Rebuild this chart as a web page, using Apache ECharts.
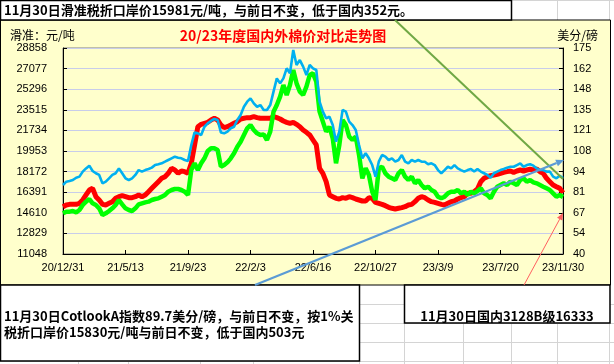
<!DOCTYPE html>
<html><head><meta charset="utf-8">
<script src="https://cdn.jsdelivr.net/npm/echarts@6/dist/echarts.min.js"></script>
<style>html,body{margin:0;padding:0;background:#fff;}#c{width:614px;height:364px;}</style>
</head><body><div id="c"></div>
<script>
// ---- data (weekly readings) ----
const dates = ['2020-12-31',
'2021-01-07','2021-01-14','2021-01-21','2021-01-28','2021-02-04','2021-02-11','2021-02-18','2021-02-25','2021-03-04','2021-03-11',
'2021-03-18','2021-03-25','2021-04-01','2021-04-08','2021-04-15','2021-04-22','2021-04-29','2021-05-06','2021-05-13','2021-05-20',
'2021-05-27','2021-06-03','2021-06-10','2021-06-17','2021-06-24','2021-07-01','2021-07-08','2021-07-15','2021-07-22','2021-07-29',
'2021-08-05','2021-08-12','2021-08-19','2021-08-26','2021-09-02','2021-09-09','2021-09-16','2021-09-23','2021-09-30','2021-10-07',
'2021-10-14','2021-10-21','2021-10-28','2021-11-04','2021-11-11','2021-11-18','2021-11-25','2021-12-02','2021-12-09','2021-12-16',
'2021-12-23','2021-12-30',
'2022-01-06','2022-01-13','2022-01-20','2022-01-27','2022-02-03','2022-02-10','2022-02-17','2022-02-24','2022-03-03','2022-03-10',
'2022-03-17','2022-03-24','2022-03-31','2022-04-07','2022-04-14','2022-04-21','2022-04-28','2022-05-05','2022-05-12','2022-05-19',
'2022-05-26','2022-06-02','2022-06-09','2022-06-16','2022-06-23','2022-06-30','2022-07-07','2022-07-14','2022-07-21','2022-07-28',
'2022-08-04','2022-08-11','2022-08-18','2022-08-25','2022-09-01','2022-09-08','2022-09-15','2022-09-22','2022-09-29','2022-10-06',
'2022-10-13','2022-10-20','2022-10-27','2022-11-03','2022-11-10','2022-11-17','2022-11-24','2022-12-01','2022-12-08','2022-12-15',
'2022-12-22','2022-12-29',
'2023-01-05','2023-01-12','2023-01-19','2023-01-26','2023-02-02','2023-02-09','2023-02-16','2023-02-23','2023-03-02','2023-03-09',
'2023-03-16','2023-03-23','2023-03-30','2023-04-06','2023-04-13','2023-04-20','2023-04-27','2023-05-04','2023-05-11','2023-05-18',
'2023-05-25','2023-06-01','2023-06-08','2023-06-15','2023-06-22','2023-06-29','2023-07-06','2023-07-13','2023-07-20','2023-07-27',
'2023-08-03','2023-08-10','2023-08-17','2023-08-24','2023-08-31','2023-09-07','2023-09-14','2023-09-21','2023-09-28','2023-10-05',
'2023-10-12','2023-10-19','2023-10-26','2023-11-02','2023-11-09','2023-11-16','2023-11-23','2023-11-30'];

// 国内3128B价格 (元/吨, left axis)
const domestic3128B = [15140,15285,15342,15342,15342,15429,15717,16149,16581,16726,
16005,15717,15342,15285,15429,15573,15861,16005,16091,16005,
15918,15918,16005,16149,16005,16149,16437,16726,17014,17302,
17590,17734,18023,18455,18311,18023,18224,18166,18023,18887,
20472,22057,22259,22346,22432,22634,22778,22634,22201,21970,
22057,22201,22346,22489,22720,22778,22835,22835,22922,22835,
22778,22778,22778,22778,22922,22835,22720,22547,22432,22346,
22432,22259,22057,21769,21568,21337,20904,
20472,18455,18023,17302,16149,16005,15861,15803,15918,15861,
16005,15918,15803,15717,15630,15630,15918,15861,15515,15429,
15342,15227,15083,14997,14939,14997,15054,15140,15285,15342,
15573,15861,16005,15918,15717,15573,15515,15429,15342,15285,
15429,15573,15630,15803,15918,16005,16293,16293,16437,16668,
17302,17590,17734,17821,17878,17936,18023,18109,18166,18224,
18109,18224,18311,18224,18311,18369,18311,18397,18166,18023,
17590,17302,17014,16869,16726,16333];

// 滑准税折口岸价 (元/吨, left axis)
const slidingTaxPrice = [14564,14708,14708,14766,14651,14852,15285,15573,15803,15429,
15285,14997,14420,14564,14766,14997,15285,15717,15342,14997,
14852,14766,14997,15342,15429,15515,15573,15717,15803,15861,
16005,16149,16437,16581,16668,16668,16581,16437,16149,18311,
18887,18311,18887,19319,19953,20184,20184,20040,18599,18743,
18974,19319,19752,20328,20760,21337,21913,22201,21769,21481,
21337,21394,20904,21625,23354,23930,24651,25660,24795,25660,
26957,25804,25083,24795,25516,26524,26668,
25948,23354,22489,21625,22057,21049,18887,20472,22634,22201,
21193,20904,21193,19607,17590,18455,17878,16437,15717,18455,
18599,18023,17734,17590,17446,18023,18311,17734,17446,17734,
17158,17446,17014,16726,16869,16581,16437,16005,15861,16005,
16293,16437,16437,16581,16293,16437,16149,16437,16293,16495,
16726,16293,16149,15861,16437,16869,17014,17158,17014,17302,
17158,17014,17446,17590,17302,17446,17244,17158,17014,16869,
16726,16581,16293,16005,16149,15981];

// Cotlook A 指数 (美分/磅, right axis)
const cotlookA = [85.2,87.4,87.8,88.5,90.0,90.7,94.0,96.1,97.9,94.4,
92.9,91.8,86.3,87.4,89.6,91.8,92.9,96.1,92.9,89.6,
88.5,89.6,91.8,95.0,94.0,95.0,95.7,96.6,98.3,98.8,
99.4,100.5,101.6,102.7,103.8,103.1,102.7,101.6,100.9,111.4,
119.7,119.1,118.0,123.4,125.6,127.2,128.5,127.8,119.7,119.1,
120.2,122.4,123.4,127.8,131.1,136.5,139.8,142.0,138.7,136.5,
137.6,134.4,134.4,137.6,146.4,155.1,151.8,155.1,161.7,158.4,
173.7,163.9,167.1,162.8,157.3,163.9,161.7,
160.6,139.8,133.3,128.9,130.0,124.5,113.6,120.2,134.4,133.3,
126.7,124.5,121.3,111.4,102.7,106.0,102.7,98.3,90.7,100.5,
104.9,103.8,101.6,102.7,100.5,101.6,104.9,100.5,99.4,101.6,
100.5,101.6,100.5,100.5,98.8,99.4,98.3,95.0,92.9,95.0,
97.2,96.1,98.3,96.1,95.0,94.0,95.0,95.7,94.0,95.7,
94.0,92.9,91.8,90.0,92.9,94.0,95.0,95.7,96.6,97.2,
97.2,98.3,99.4,97.2,98.3,98.8,97.9,96.1,95.0,95.0,
94.0,94.0,90.7,89.6,91.3,89.7];

const xTickLabels = ['20/12/31','21/5/13','21/9/23','22/2/3','22/6/16','22/10/27','23/3/9','23/7/20','23/11/30'];
const leftTicks = [11048,12829,14610,16391,18172,19953,21734,23515,25296,27077,28858];
const rightTicks = ['40','54','67','81','94','108','121','135','148','162','175'];
const rightMin = 40, rightMax = 175;

const topNote = '11月30日滑准税折口岸价15981元/吨，与前日不变，低于国内352元。';
const bottomNote1 = '11月30日CotlookA指数89.7美分/磅，与前日不变，按1%关';
const bottomNote2 = '税折口岸价15830元/吨与前日不变，低于国内503元';
const rightNote = '11月30日国内3128B级16333';
const chartTitle = '20/23年度国内外棉价对比走势图';

// ---- build ----
const DAY = 86400000;
const t0 = Date.parse(dates[0]);
const dayX = dates.map(d => Math.round((Date.parse(d) - t0) / DAY));
const xMax = dayX[dayX.length - 1];
const xInterval = xMax / (xTickLabels.length - 1);

const chart = echarts.init(document.getElementById('c'), null, {renderer: 'canvas'});

const gridCol = '#d4d4d4';
const bg = [];
// excel cell grid lines in the white area
[0.5, 304.5, 323.5, 342.5, 361.5].forEach(y => bg.push({type:'line', z:-20, silent:true,
  shape:{x1:0,y1:y,x2:614,y2:y}, style:{stroke:gridCol, lineWidth:1}}));
[78.5,128.5,200.5,253.5,359.5,404.5,463.5,511.5,557.5,609.5].forEach(x => bg.push({type:'line', z:-20, silent:true,
  shape:{x1:x,y1:0,x2:x,y2:364}, style:{stroke:gridCol, lineWidth:1}}));
// chart area
bg.push({type:'rect', z:-10, silent:true, shape:{x:0.5,y:20,width:610,height:265},
  style:{fill:'#ffffcc', stroke:'#000', lineWidth:1}});
// top note box
bg.push({type:'rect', z:-5, silent:true, shape:{x:0.5,y:0.5,width:511,height:19.5},
  style:{fill:'#fff', stroke:'#000', lineWidth:1.5}});
bg.push({type:'text', z:-4, silent:true, x:4, y:10,
  style:{text:topNote, font:'bold 13px "Noto Sans CJK SC"', fill:'#000', verticalAlign:'middle'}});
// bottom-left box
bg.push({type:'rect', z:-5, silent:true, shape:{x:0.5,y:285,width:359,height:76},
  style:{fill:'#fff', stroke:'#000', lineWidth:1.5}});
bg.push({type:'text', z:-4, silent:true, x:4, y:316,
  style:{text:bottomNote1, font:'bold 13px "Noto Sans CJK SC"', fill:'#000', verticalAlign:'middle'}});
bg.push({type:'text', z:-4, silent:true, x:4, y:332,
  style:{text:bottomNote2, font:'bold 13px "Noto Sans CJK SC"', fill:'#000', verticalAlign:'middle'}});
// bottom-right box
bg.push({type:'rect', z:-5, silent:true, shape:{x:404.5,y:285,width:205.5,height:38},
  style:{fill:'#fff', stroke:'#000', lineWidth:1.5}});
bg.push({type:'text', z:-4, silent:true, x:507, y:316,
  style:{text:rightNote, font:'bold 13px "Noto Sans CJK SC"', fill:'#000', align:'center', verticalAlign:'middle'}});
// chart texts
bg.push({type:'text', z:-4, silent:true, x:10, y:35,
  style:{text:'滑准：元/吨', font:'12px "Noto Sans CJK SC"', fill:'#000', verticalAlign:'middle'}});
bg.push({type:'text', z:-4, silent:true, x:598, y:35,
  style:{text:'美分/磅', font:'12px "Noto Sans CJK SC"', fill:'#000', align:'right', verticalAlign:'middle'}});
bg.push({type:'text', z:-4, silent:true, x:283, y:36,
  style:{text:chartTitle, font:'bold 14px "Noto Sans CJK SC"', fill:'#ff0000', align:'center', verticalAlign:'middle'}});

// annotation lines (drawn shapes on top)
function arrow(x1,y1,x2,y2,color,w,head,half){
  const dx=x2-x1, dy=y2-y1, L=Math.hypot(dx,dy), ux=dx/L, uy=dy/L;
  const bx=x2-ux*head, by=y2-uy*head;
  return [
    {type:'line', z:50, silent:true, shape:{x1,y1,x2:bx,y2:by}, style:{stroke:color, lineWidth:w}},
    {type:'polygon', z:50, silent:true, shape:{points:[[x2,y2],[bx-uy*half,by+ux*half],[bx+uy*half,by-ux*half]]}, style:{fill:color}}
  ];
}
const overlays = [
  {type:'line', z:50, silent:true, shape:{x1:395,y1:20,x2:563,y2:179}, style:{stroke:'#70a845', lineWidth:2}},
  ...arrow(255,285,564,160,'#5b9bd5',2.2,8,3.5),
  ...arrow(524,285,563,213,'#ff6060',1,7,3)
];

const option = {
  animation:false,
  backgroundColor:'transparent',
  graphic: bg.concat(overlays),
  grid:{left:63, right:51, top:48, bottom:110, show:true, backgroundColor:'#ffffcc', borderColor:'#808080', borderWidth:1},
  xAxis:{type:'value', min:0, max:xMax, interval:xInterval,
    axisLine:{lineStyle:{color:'#000', width:1}},
    axisTick:{inside:true, length:4, lineStyle:{color:'#000'}},
    splitLine:{show:false},
    axisLabel:{color:'#000', fontSize:11, fontFamily:'Liberation Sans', margin:8,
      formatter:v => xTickLabels[Math.round(v / xInterval)] || ''}},
  yAxis:[
    {type:'value', min:leftTicks[0], max:leftTicks[leftTicks.length-1], interval:leftTicks[1]-leftTicks[0],
     axisLine:{show:true, lineStyle:{color:'#000', width:1}},
     axisTick:{show:true, inside:true, length:4, lineStyle:{color:'#000'}},
     splitLine:{show:true, lineStyle:{color:'#c8cdea', width:1}},
     axisLabel:{color:'#000', fontSize:11, fontFamily:'Liberation Sans', margin:16,
       formatter:v => String(Math.round(v))}},
    {type:'value', min:rightMin, max:rightMax, interval:(rightMax-rightMin)/(rightTicks.length-1), position:'right',
     axisLine:{show:true, lineStyle:{color:'#000', width:1}},
     axisTick:{show:true, inside:true, length:4, lineStyle:{color:'#000'}},
     splitLine:{show:false},
     axisLabel:{color:'#000', fontSize:11, fontFamily:'Liberation Sans', margin:10,
       formatter:v => rightTicks[Math.round((v-rightMin)/((rightMax-rightMin)/(rightTicks.length-1)))] || ''}}
  ],
  series:[
    {name:'国内3128B', type:'line', yAxisIndex:0, showSymbol:false, z:2,
     data: dayX.map((d,i)=>[d, domestic3128B[i]]), lineStyle:{color:'#ff0000', width:5}},
    {name:'滑准税折口岸价', type:'line', yAxisIndex:0, showSymbol:false, z:3,
     data: dayX.map((d,i)=>[d, slidingTaxPrice[i]]), lineStyle:{color:'#00ff00', width:4.5}},
    {name:'CotlookA', type:'line', yAxisIndex:1, showSymbol:false, z:4,
     data: dayX.map((d,i)=>[d, cotlookA[i]]), lineStyle:{color:'#00b0f0', width:2.6}}
  ]
};
chart.setOption(option);
</script>
</body></html>
